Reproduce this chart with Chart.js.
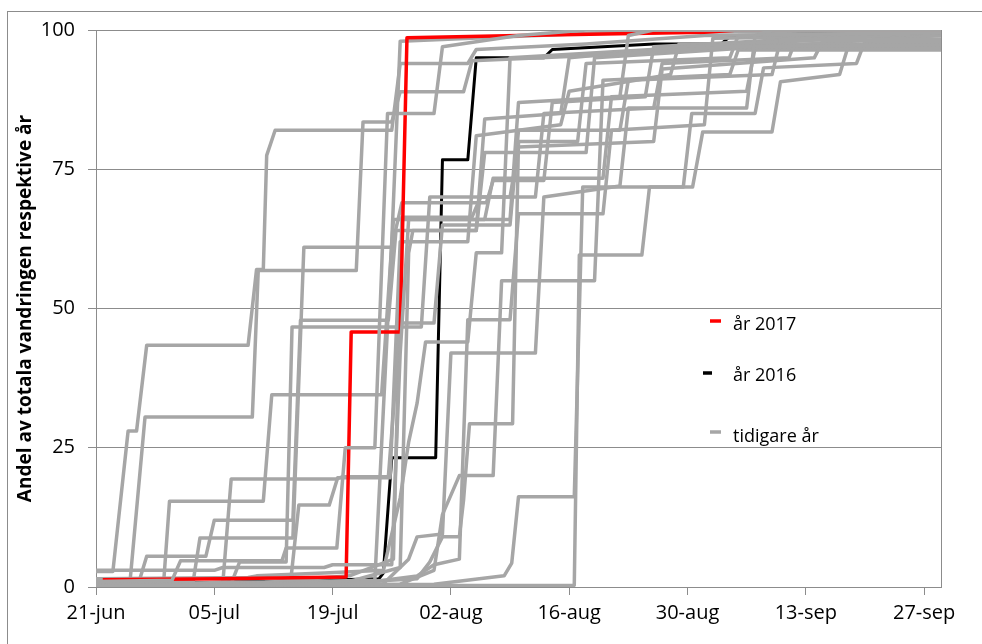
<!DOCTYPE html>
<html>
<head>
<meta charset="utf-8">
<script src="https://cdn.jsdelivr.net/npm/chart.js@4.4.1/dist/chart.umd.min.js"></script>
<style>
html, body { margin: 0; padding: 0; background: #fff; }
#wrap { position: relative; width: 982px; height: 644px; overflow: hidden; }
#frame { position: absolute; left: 7px; top: 11px; width: 980px; height: 680px; border: 1px solid #8c8c8c; }
#c { position: absolute; left: 0; top: 0; }
</style>
</head>
<body>
<div id="wrap">
  <div id="frame"></div>
  <canvas id="c" width="982" height="644"></canvas>
</div>
<script>
// days counted from 21-jun
const tickDays = [0, 14, 28, 42, 56, 70, 84, 98];
const tickLabels = ['21-jun', '05-jul', '19-jul', '02-aug', '16-aug', '30-aug', '13-sep', '27-sep'];
const yTicks = [0, 25, 50, 75, 100];
const legendLabels = ['år 2017', 'år 2016', 'tidigare år'];
const yTitle = 'Andel av totala vandringen respektive år';

// [day, percent]
const year2017 = [[0.8, 1.3], [15, 1.5], [29.6, 1.8], [30.2, 45.8], [36, 45.8], [36.8, 98.6], [50, 99], [72, 99.6], [76, 100], [100, 100]];
const year2016 = [[0, 0.5], [20, 1], [33.5, 1.5], [34, 2.5], [35, 23.2], [40.2, 23.2], [41, 76.7], [44, 76.7], [45, 95], [53, 95], [54, 96.5], [66, 97.5], [74, 97.5], [75, 98.8], [85, 99.5], [100, 100]];

const earlier01 = [[0, 2.8], [2, 2.8], [3.8, 28], [4.8, 28], [6, 43.4], [18, 43.4], [19, 57], [19.8, 57], [20.2, 77.5], [21.2, 82], [35, 82], [36, 94], [44, 94], [45, 96.5], [58, 97.5], [72, 99], [100, 99.5]];
const earlier02 = [[0, 0.3], [4, 0.5], [5.8, 30.5], [18.5, 30.5], [19.2, 56.8], [30.8, 56.8], [31.6, 83.5], [35, 83.5], [36, 88.9], [43.5, 88.9], [44.5, 94.5], [60, 95.5], [75, 97], [100, 97.3]];
const earlier03 = [[0, 0.5], [8, 0.7], [8.7, 15.4], [19.8, 15.4], [20.8, 34.5], [33.8, 34.5], [35.2, 66], [46, 66], [47, 73.4], [60, 73.4], [61, 88], [77, 89], [78, 96.8], [100, 96.8]];
const earlier04 = [[0, 0.3], [15, 0.5], [16, 19.4], [28.5, 19.4], [29.2, 19.8], [34.6, 19.8], [36, 47.4], [40, 47.4], [41, 65], [49, 65], [50, 82], [62, 82], [63, 91], [80, 92], [81, 98.2], [100, 98.2]];
const earlier05 = [[0, 0.3], [5, 0.5], [6, 5.5], [13, 5.5], [14, 12], [23.3, 12], [24.2, 47.9], [34.6, 47.9], [35.5, 64], [45, 64], [46, 84], [55, 85], [56, 95], [70, 97], [100, 99.6]];
const earlier06 = [[0, 0.5], [11.5, 1], [12.3, 8.8], [23.3, 8.8], [24.6, 61], [35, 61], [36.2, 69], [46.2, 69], [47, 73], [53, 73], [54, 87], [65, 88], [66, 97], [100, 99.8]];
const earlier07 = [[0, 0.5], [16, 0.6], [17, 4.5], [22.5, 4.5], [23.2, 46.7], [38.5, 46.7], [39.5, 70], [49, 70], [50, 79], [66, 80], [67, 93], [85, 95], [86, 98], [100, 98.4]];
const earlier08 = [[0, 0.2], [23, 0.5], [24, 14.7], [27.6, 14.7], [28.6, 19.6], [34.8, 19.6], [36, 62], [44, 62], [45, 81], [55, 83], [56, 89], [68, 92], [69, 97.5], [100, 97.5]];
const earlier09 = [[0, 0.2], [56.6, 0.3], [57.2, 59.6], [64.6, 59.6], [65.5, 71.8], [70.6, 71.8], [71.8, 81.7], [80, 81.7], [81, 90.7], [88, 92], [89, 97], [100, 97]];
const earlier10 = [[0, 0.2], [40, 0.5], [48.3, 2], [49.2, 4.3], [50, 16.2], [56.6, 16.2], [57.6, 71.8], [69.5, 71.8], [70.5, 85], [78, 85], [79, 93.2], [90, 94], [91, 98], [100, 98]];
const earlier11 = [[0, 0.3], [30, 0.8], [38, 1.5], [39.5, 4.5], [41, 9], [43, 9], [43.5, 15.6], [44.2, 29.3], [49.3, 29.3], [50, 80], [57, 80], [58, 94], [75, 95], [76, 99], [100, 99.6]];
const earlier12 = [[0, 3], [14, 3], [15, 3.5], [27, 3.5], [28, 4], [35, 4], [36, 42], [37, 66], [49, 66], [50, 87], [62, 88], [63, 99], [66, 100], [100, 100]];
const earlier13 = [[0, 1], [9, 1.2], [10, 4.7], [22, 4.7], [22.5, 7], [28.5, 7], [29.5, 25], [33, 25], [34.5, 85], [40, 85], [41, 97], [50, 99], [58, 100], [100, 100]];
const earlier14 = [[0, 0.3], [20, 0.8], [30, 2], [35.2, 5], [36.2, 66.4], [44.5, 66.4], [45.5, 70], [52, 70], [53, 85], [66, 86], [67, 94], [82, 95], [83, 99], [100, 99.6]];
const earlier15 = [[0, 0.2], [30, 1], [36, 3.5], [37, 60], [37.5, 64], [45, 64], [46, 78], [58, 78], [59, 95], [100, 99]];
const earlier16 = [[0, 0.2], [34, 0.6], [37, 5], [38, 9], [41, 9.5], [42, 42], [52, 42], [53, 70], [62, 72], [63, 86], [77, 86], [78, 99], [80, 100], [100, 100]];
const earlier17 = [[0, 0.3], [32, 0.8], [38, 2], [40, 4], [43, 5], [44, 48], [49, 48], [50, 67], [60, 67], [61, 82], [72, 83], [73, 98.5], [100, 99]];
const earlier18 = [[0, 0.3], [36, 0.5], [40, 3], [41, 13], [43, 20], [47, 20], [48, 55], [59, 55], [60, 91], [75, 92], [76, 96.4], [100, 96.4]];
const earlier19 = [[0, 1.5], [18, 1.7], [19, 2], [27, 2.5], [34, 3], [36, 16], [37, 26], [38, 33], [39, 44], [44, 44], [45, 60], [48, 60], [49, 95], [100, 99.5]];
const earlier20 = [[0, 0.5], [25, 1], [33, 1.2], [35, 62], [36, 98], [60, 99.5], [100, 100]];

// earlier years drawn above / below the 2017 line
const earlierAbove = [earlier12, earlier16, earlier13];
const earlierBelow = [earlier01, earlier02, earlier03, earlier04, earlier05, earlier06, earlier07, earlier08, earlier09, earlier10,
    earlier11, earlier14, earlier15, earlier17, earlier18, earlier19, earlier20];

const RED = '#ff0000';
const BLACK = '#000000';
const GREY = '#a6a6a6';
const AXIS = '#8c8c8c';

function toPoints(series) {
    return series.map(p => ({ x: p[0], y: p[1] }));
}

function lineSet(label, series, color, width) {
    return {
        label: label,
        data: toPoints(series),
        borderColor: color,
        backgroundColor: color,
        borderWidth: width,
        pointRadius: 0,
        fill: false,
        tension: 0,
        borderJoinStyle: 'round'
    };
}

// first dataset is drawn on top
const datasets = [];
earlierAbove.forEach(s => datasets.push(lineSet(legendLabels[2], s, GREY, 3.5)));
datasets.push(lineSet(legendLabels[0], year2017, RED, 3.5));
earlierBelow.forEach(s => datasets.push(lineSet(legendLabels[2], s, GREY, 3.5)));
datasets.push(lineSet(legendLabels[1], year2016, BLACK, 3));

const plotFrame = {
    id: 'plotFrame',
    beforeDatasetsDraw(chart) {
        const a = chart.chartArea;
        const ctx = chart.ctx;
        ctx.save();
        ctx.strokeStyle = AXIS;
        ctx.lineWidth = 1;
        ctx.beginPath();
        ctx.moveTo(Math.round(a.right) + 0.5, a.top);
        ctx.lineTo(Math.round(a.right) + 0.5, a.bottom);
        ctx.stroke();
        ctx.restore();
    }
};

const insideLegend = {
    id: 'insideLegend',
    afterDraw(chart) {
        const ctx = chart.ctx;
        const items = [
            { text: legendLabels[0], color: RED, x0: 710, x1: 721, y: 321, ty: 325 },
            { text: legendLabels[1], color: BLACK, x0: 703, x1: 712, y: 373, ty: 376 },
            { text: legendLabels[2], color: GREY, x0: 710, x1: 721, y: 432, ty: 437 }
        ];
        ctx.save();
        ctx.font = '18px "Open Sans"';
        ctx.textBaseline = 'middle';
        ctx.textAlign = 'left';
        items.forEach(it => {
            ctx.strokeStyle = it.color;
            ctx.lineWidth = 3.5;
            ctx.beginPath();
            ctx.moveTo(it.x0, it.y);
            ctx.lineTo(it.x1, it.y);
            ctx.stroke();
            ctx.fillStyle = '#000';
            ctx.fillText(it.text, 733, it.ty);
        });
        ctx.restore();
    }
};

new Chart(document.getElementById('c'), {
    type: 'line',
    data: { datasets: datasets },
    options: {
        responsive: false,
        animation: false,
        events: [],
        layout: { padding: { left: 0, top: 30, right: 41, bottom: 0 } },
        plugins: { legend: { display: false }, tooltip: { enabled: false } },
        scales: {
            x: {
                type: 'linear',
                min: 0,
                max: 100,
                afterBuildTicks: (scale) => { scale.ticks = tickDays.map(v => ({ value: v })); },
                afterFit: (scale) => { scale.height = 57; },
                ticks: {
                    autoSkip: false,
                    maxRotation: 0,
                    padding: 6,
                    color: '#000',
                    font: { family: 'Open Sans', size: 20 },
                    callback: (value) => tickLabels[tickDays.indexOf(value)]
                },
                grid: { drawOnChartArea: false, drawTicks: true, tickLength: 8, color: AXIS },
                border: { color: AXIS, width: 1 }
            },
            y: {
                min: 0,
                max: 100,
                afterBuildTicks: (scale) => { scale.ticks = yTicks.map(v => ({ value: v })); },
                afterFit: (scale) => { scale.width = 96; },
                ticks: {
                    padding: 13,
                    color: '#000',
                    font: { family: 'Open Sans', size: 20 }
                },
                grid: { color: AXIS, tickLength: 8, lineWidth: 1 },
                border: { color: AXIS, width: 1 },
                title: {
                    display: true,
                    text: yTitle,
                    color: '#000',
                    font: { family: 'Open Sans', size: 19, weight: 'bold' },
                    padding: { top: 14, bottom: 0 }
                }
            }
        }
    },
    plugins: [plotFrame, insideLegend]
});
</script>
</body>
</html>
